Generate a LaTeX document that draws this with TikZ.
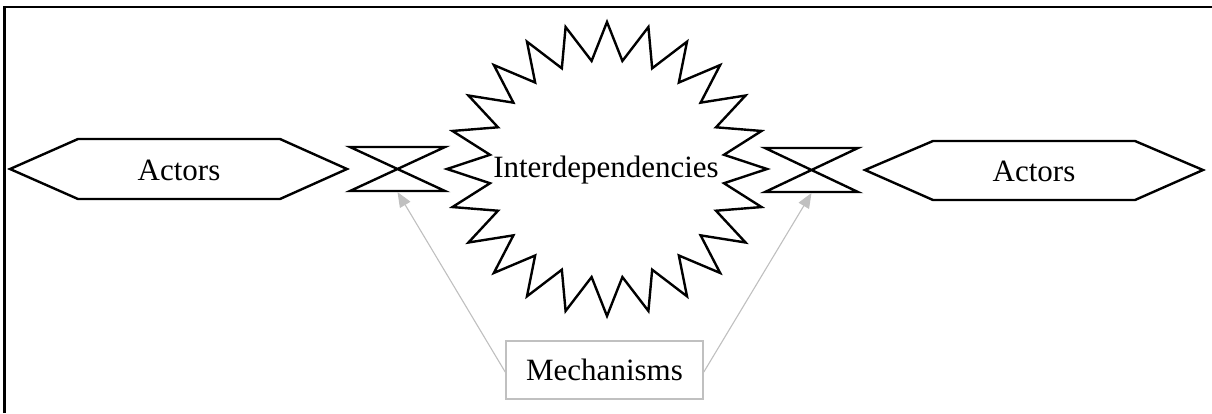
\documentclass[tikz,border=0pt]{standalone}
\usepackage{fontspec}
\setmainfont{Liberation Serif}
\usetikzlibrary{arrows.meta}
\definecolor{lightg}{RGB}{192,192,192}
\tikzset{
  shapeline/.style={draw=black, line width=2.4pt, line join=miter},
  lbl/.style={font=\fontsize{31}{35}\selectfont, inner sep=0pt},
  mechbox/.style={draw=lightg, line width=1.6pt, minimum width=197pt, minimum height=58pt, font=\fontsize{31}{35}\selectfont},
  grayarrow/.style={draw=lightg, line width=1.1pt, -{Triangle[length=15pt,width=12pt]}, fill=lightg},
}
\begin{document}
\begin{tikzpicture}[x=1pt,y=-1pt]
\useasboundingbox (0,0) rectangle (1212,413);
\draw[line width=2.6pt] (4.5,413) -- (4.5,7) -- (1212,7);
% left actors hexagon
\draw[shapeline] (10,169) -- (78,139) -- (280,139) -- (347,169) -- (280,199) -- (78,199) -- cycle;
\node[lbl] (actL) at (179,170) {Actors};
% right actors hexagon
\draw[shapeline] (865,170) -- (933,141) -- (1135,141) -- (1203,170) -- (1135,200) -- (933,200) -- cycle;
\node[lbl] (actR) at (1034,171) {Actors};
% bowties
\draw[shapeline] (350,147) -- (445,147) -- (350,191) -- (445,191) -- cycle;
\coordinate (bowL) at (397.5,192);
\draw[shapeline] (765,148) -- (858,148) -- (765,192) -- (858,192) -- cycle;
\coordinate (bowR) at (811.5,193);
% starburst
\draw[shapeline] (767,169)
  \foreach \i in {0,...,23} {
    -- ({607+118*cos(15*\i+7.5)},{169-109*sin(15*\i+7.5)})
    -- ({607+160*cos(15*\i+15)},{169-147*sin(15*\i+15)})
  } -- cycle;
\node[lbl] (inter) at (606,170) {Interdependencies};
% mechanisms
\node[mechbox] (mech) at (604.5,370) {Mechanisms};
\draw[grayarrow] ([yshift=-2pt]mech.west) -- (bowL);
\draw[grayarrow] ([yshift=-2pt]mech.east) -- (bowR);
\end{tikzpicture}
\end{document}
